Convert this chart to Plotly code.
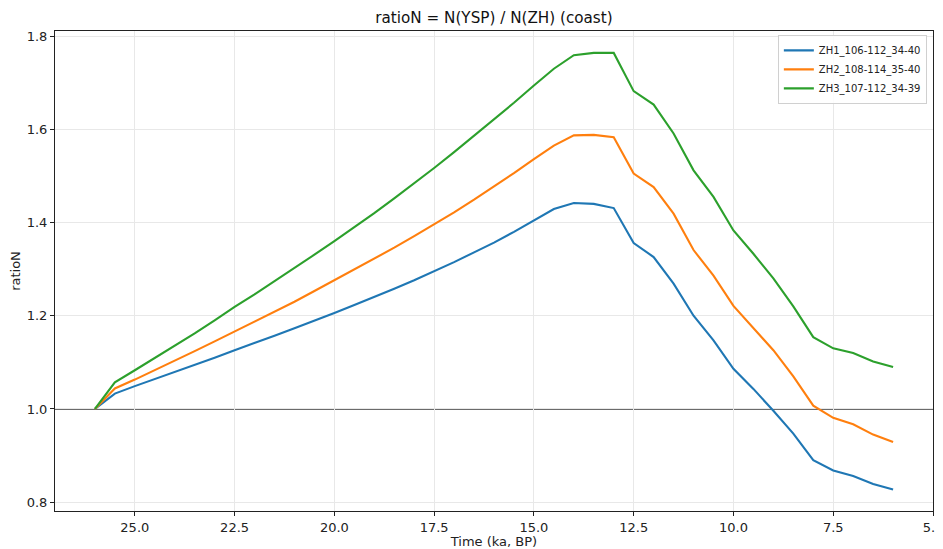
import plotly.graph_objects as go

time_ka = [26.0, 25.5, 25.0, 24.5, 24.0, 23.5, 23.0, 22.5, 22.0, 21.5, 21.0,
           20.5, 20.0, 19.5, 19.0, 18.5, 18.0, 17.5, 17.0, 16.5, 16.0, 15.5,
           15.0, 14.5, 14.0, 13.5, 13.0, 12.5, 12.0, 11.5, 11.0, 10.5, 10.0,
           9.5, 9.0, 8.5, 8.0, 7.5, 7.0, 6.5, 6.0]

zh1 = [1.000, 1.033, 1.049, 1.064, 1.079, 1.094, 1.110, 1.126, 1.141, 1.157, 1.173,
       1.189, 1.206, 1.223, 1.240, 1.258, 1.276, 1.295, 1.315, 1.336, 1.357, 1.380,
       1.404, 1.429, 1.442, 1.440, 1.431, 1.356, 1.326, 1.269, 1.200, 1.147, 1.086,
       1.043, 0.996, 0.947, 0.890, 0.868, 0.856, 0.839, 0.827]

zh2 = [1.000, 1.044, 1.063, 1.083, 1.103, 1.124, 1.145, 1.166, 1.187, 1.208, 1.230,
       1.253, 1.276, 1.299, 1.322, 1.346, 1.371, 1.396, 1.422, 1.449, 1.477, 1.506,
       1.536, 1.565, 1.587, 1.588, 1.583, 1.505, 1.476, 1.419, 1.341, 1.286, 1.221,
       1.173, 1.126, 1.070, 1.007, 0.981, 0.967, 0.945, 0.929]

zh3 = [1.000, 1.057, 1.083, 1.109, 1.135, 1.162, 1.190, 1.219, 1.246, 1.274, 1.302,
       1.331, 1.360, 1.390, 1.420, 1.452, 1.484, 1.517, 1.551, 1.586, 1.621, 1.657,
       1.694, 1.730, 1.759, 1.764, 1.764, 1.682, 1.653, 1.591, 1.512, 1.455, 1.383,
       1.333, 1.280, 1.220, 1.154, 1.130, 1.120, 1.102, 1.090]

series_names = ["ZH1_106-112_34-40", "ZH2_108-114_35-40", "ZH3_107-112_34-39"]
series_values = [zh1, zh2, zh3]
colors = ["#1f77b4", "#ff7f0e", "#2ca02c"]

x_ticks = [25.0, 22.5, 20.0, 17.5, 15.0, 12.5, 10.0, 7.5, 5.0]
y_ticks = [0.8, 1.0, 1.2, 1.4, 1.6, 1.8]

FONT = "DejaVu Sans"

fig = go.Figure()
for name, vals, col in zip(series_names, series_values, colors):
    fig.add_trace(go.Scatter(x=time_ka, y=vals, mode="lines", name=name,
                             line=dict(color=col, width=2.1)))

fig.add_hline(y=1.0, line=dict(color="#3a3a3a", width=1.5), layer="below")

# page body has an 8px margin, so the figure is sized/margined to compensate
fig.update_layout(
    width=935, height=541,
    margin=dict(l=47, r=10, t=23, b=38, autoexpand=False),
    paper_bgcolor="white", plot_bgcolor="white",
    font=dict(family=FONT, size=13, color="#222"),
    title=dict(text="ratioN = N(YSP) / N(ZH) (coast)", xref="paper", x=0.5, xanchor="center",
               yref="container", y=0.983, yanchor="middle",
               font=dict(family=FONT, size=15.2, color="#111")),
    showlegend=True,
    legend=dict(x=0.993, y=0.992, xanchor="right", yanchor="top",
                bgcolor="rgba(255,255,255,0.85)", bordercolor="#d0d0d0", borderwidth=1,
                font=dict(family=FONT, size=10, color="#222"),
                itemwidth=30, tracegroupgap=0),
)

fig.update_xaxes(
    range=[27, 5], tickvals=x_ticks, ticktext=[f"{v:.1f}" for v in x_ticks],
    showgrid=True, gridcolor="#e8e8e8", gridwidth=1,
    showline=True, linecolor="#222", linewidth=1, mirror=True,
    ticks="outside", ticklen=4, tickcolor="#222",
    zeroline=False, automargin=False, ticklabeloverflow="allow",
    title=dict(text="Time (ka, BP)", font=dict(family=FONT, size=13), standoff=0),
)
fig.update_yaxes(
    range=[0.781, 1.811], tickvals=y_ticks, ticktext=[f"{v:.1f}" for v in y_ticks],
    showgrid=True, gridcolor="#e8e8e8", gridwidth=1,
    showline=True, linecolor="#222", linewidth=1, mirror=True,
    ticks="outside", ticklen=4, tickcolor="#222",
    zeroline=False, automargin=False,
    title=dict(text="ratioN", font=dict(family=FONT, size=13), standoff=5),
)

fig.write_html("out.html")
